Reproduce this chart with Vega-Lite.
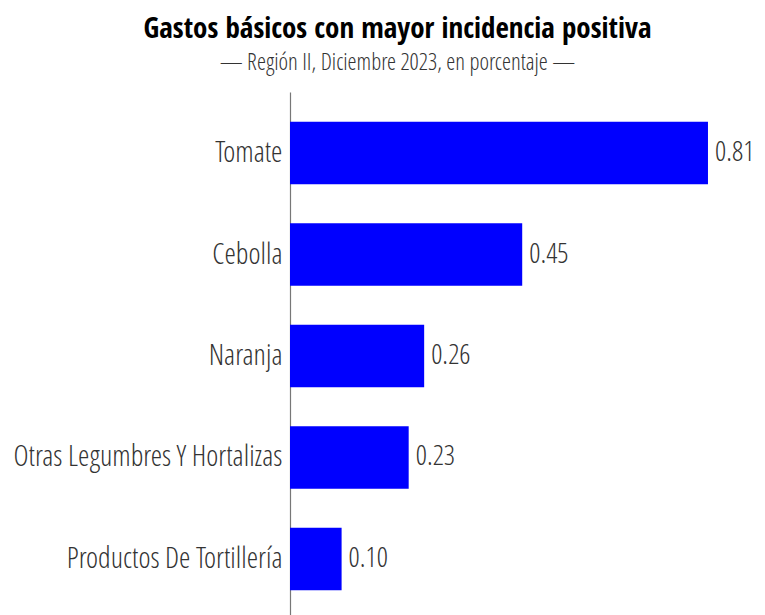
{
  "$schema": "https://vega.github.io/schema/vega-lite/v6.json",
  "autosize": {"type": "none"},
  "padding": {"left": 290, "top": 92, "right": 0, "bottom": 0},
  "width": 475,
  "height": 528,
  "background": "white",
  "config": {"view": {"stroke": null}, "font": "Open Sans Condensed"},
  "title": {
    "text": "Gastos básicos con mayor incidencia positiva",
    "subtitle": "—  Región II, Diciembre 2023, en porcentaje  —",
    "anchor": "middle",
    "frame": "group",
    "dx": -130,
    "offset": 17,
    "font": "Open Sans Condensed",
    "fontSize": 29,
    "fontWeight": 700,
    "color": "#000000",
    "subtitleFont": "Open Sans Condensed Light",
    "subtitleFontSize": 23,
    "subtitleFontWeight": "normal",
    "subtitleColor": "#333333",
    "subtitlePadding": 8
  },
  "data": {
    "values": [
      {"gasto": "Tomate", "valor": 0.81},
      {"gasto": "Cebolla", "valor": 0.45},
      {"gasto": "Naranja", "valor": 0.26},
      {"gasto": "Otras Legumbres Y Hortalizas", "valor": 0.23},
      {"gasto": "Productos De Tortillería", "valor": 0.10}
    ]
  },
  "encoding": {
    "y": {
      "field": "gasto",
      "type": "nominal",
      "sort": null,
      "scale": {"paddingInner": 0.384, "paddingOuter": 0.293},
      "axis": {
        "title": null,
        "ticks": false,
        "domain": true,
        "domainColor": "#777777",
        "domainWidth": 1.2,
        "labelFont": "Open Sans Condensed Light",
        "labelFontWeight": "normal",
        "labelFontSize": 29,
        "labelColor": "#333333",
        "labelPadding": 8,
        "labelLimit": 400
      }
    },
    "x": {
      "field": "valor",
      "type": "quantitative",
      "scale": {"domain": [0, 0.9205], "nice": false, "zero": true},
      "axis": null
    }
  },
  "layer": [
    {"mark": {"type": "bar", "color": "#0000FF"}},
    {
      "mark": {
        "type": "text",
        "align": "left",
        "baseline": "middle",
        "dx": 7,
        "font": "Open Sans Condensed Light",
        "fontWeight": "normal",
        "fontSize": 28,
        "color": "#333333"
      },
      "encoding": {"text": {"field": "valor", "type": "quantitative", "format": ".2f"}}
    }
  ]
}
